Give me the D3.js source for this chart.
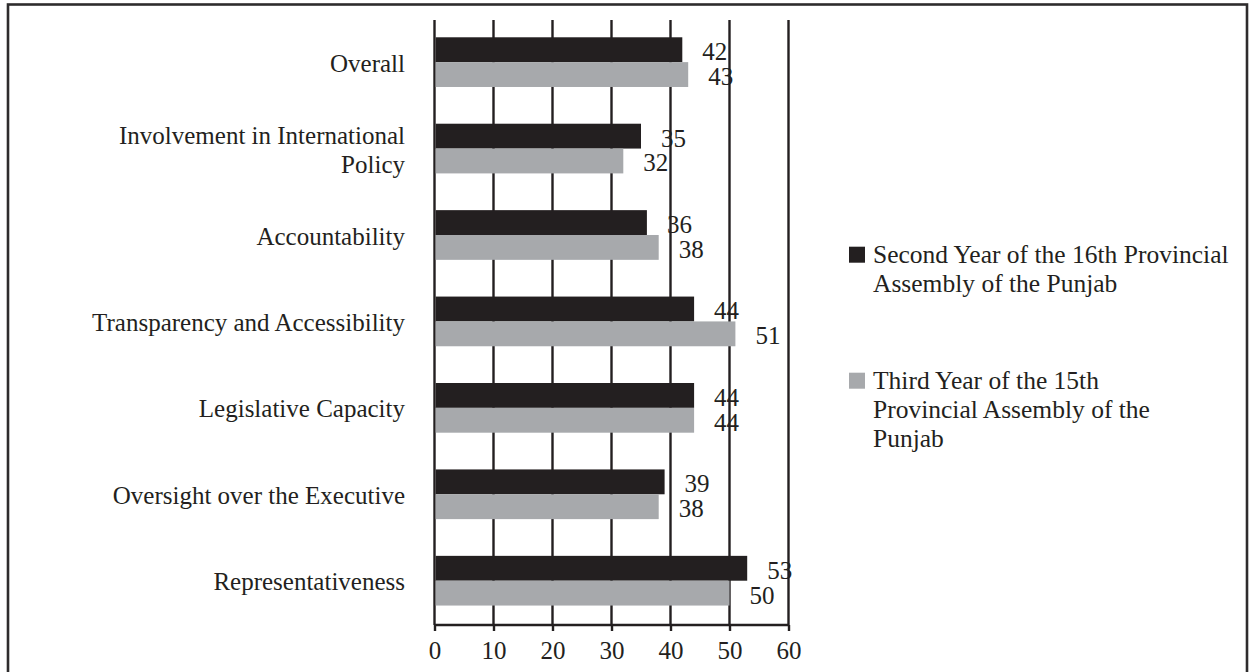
<!DOCTYPE html>
<html>
<head>
<meta charset="utf-8">
<script src="https://cdn.jsdelivr.net/npm/d3@7"></script>
<style>
  html, body { margin: 0; padding: 0; background: #fff; }
  svg { display: block; }
  text { font-family: "Liberation Serif", "Times New Roman", serif; fill: #231f20; }
</style>
</head>
<body>
<svg id="chart" width="1252" height="672"></svg>
<script>
// Category labels (top to bottom), each split into its display lines
const categories = [
  "Overall",
  "Involvement in International Policy",
  "Accountability",
  "Transparency and Accessibility",
  "Legislative Capacity",
  "Oversight over the Executive",
  "Representativeness"
];
const categoryLines = [
  ["Overall"],
  ["Involvement in International", "Policy"],
  ["Accountability"],
  ["Transparency and Accessibility"],
  ["Legislative Capacity"],
  ["Oversight over the Executive"],
  ["Representativeness"]
];
const seriesNames = ["second", "third"];
const secondYear16th = [42, 35, 36, 44, 44, 39, 53];
const thirdYear15th = [43, 32, 38, 51, 44, 38, 50];
const xTicks = [0, 10, 20, 30, 40, 50, 60];
const legendLines = [
  ["Second Year of the 16th Provincial", "Assembly of the Punjab"],
  ["Third Year of the 15th", "Provincial Assembly of the", "Punjab"]
];
const colors = { second: "#231f20", third: "#a7a9ac" };

const rows = categories.map((c, i) => ({
  cat: c, lines: categoryLines[i],
  vals: [
    { key: "second", v: secondYear16th[i] },
    { key: "third", v: thirdYear15th[i] }
  ]
}));

const svg = d3.select("#chart");

// Outer frame
svg.append("rect")
  .attr("x", 8).attr("y", 4.5).attr("width", 1239).attr("height", 700)
  .attr("fill", "none").attr("stroke", "#2e2c2d").attr("stroke-width", 2.6);

const plotTop = 20, plotBottom = 625;
const x = d3.scaleLinear().domain([0, 60]).range([434.5, 788.5]);
const y = d3.scaleBand().domain(categories).range([plotTop, plotBottom]).padding(0);
const ySub = d3.scaleBand().domain(seriesNames)
  .range([y.bandwidth() * 0.2, y.bandwidth() * 0.775]).padding(0);

// Value labels (drawn beneath the gridlines)
const valueLayer = svg.append("g");
rows.forEach(r => {
  valueLayer.selectAll(null).data(r.vals).enter().append("text")
    .attr("x", d => x(d.v) + 20)
    .attr("y", d => y(r.cat) + ySub(d.key) + ySub.bandwidth() / 2 + 10.5)
    .attr("font-size", 25)
    .text(d => d.v);
});

// Vertical gridlines
svg.append("g").selectAll("line").data(xTicks).enter().append("line")
  .attr("x1", d => x(d)).attr("x2", d => x(d))
  .attr("y1", plotTop).attr("y2", plotBottom)
  .attr("stroke", "#231f20").attr("stroke-width", 2.4);

// Bars
const groups = svg.append("g").selectAll("g").data(rows).enter().append("g")
  .attr("transform", d => `translate(0,${y(d.cat)})`);
groups.selectAll("rect").data(d => d.vals).enter().append("rect")
  .attr("x", x(0) + 1.2)
  .attr("y", d => ySub(d.key))
  .attr("width", d => x(d.v) - x(0) - 1.2)
  .attr("height", ySub.bandwidth())
  .attr("fill", d => colors[d.key]);

// Bottom axis
const xAxis = d3.axisBottom(x).tickValues(xTicks).tickSize(6).tickPadding(10)
  .tickFormat(d3.format("d"));
const axisG = svg.append("g").attr("transform", `translate(0,${plotBottom})`).call(xAxis);
axisG.select(".domain").attr("stroke", "#231f20").attr("stroke-width", 2.4)
  .attr("d", `M${x(0)},0H${x(60)}`);
axisG.selectAll(".tick line").attr("stroke", "#231f20").attr("stroke-width", 2.4);
axisG.selectAll(".tick text")
  .attr("font-family", "Liberation Serif, Times New Roman, serif")
  .attr("font-size", 25).attr("fill", "#231f20");

// Category labels
const lineGap = 29;
const catLayer = svg.append("g");
rows.forEach(r => {
  const cy = y(r.cat) + y.bandwidth() / 2;
  const n = r.lines.length;
  catLayer.selectAll(null).data(r.lines).enter().append("text")
    .attr("x", 405)
    .attr("y", (d, i) => cy + (i - (n - 1) / 2) * lineGap + 8.5)
    .attr("text-anchor", "end")
    .attr("font-size", 25)
    .text(d => d);
});

// Legend
const legendTops = [246.7, 372.7];
seriesNames.forEach((k, i) => {
  const g = svg.append("g");
  g.append("rect").attr("x", 849).attr("y", legendTops[i])
    .attr("width", 16).attr("height", 16).attr("fill", colors[k]);
  g.selectAll("text").data(legendLines[i]).enter().append("text")
    .attr("x", 873)
    .attr("y", (d, j) => legendTops[i] + 16.3 + j * 29.2)
    .attr("font-size", 25.5)
    .text(d => d);
});
</script>
</body>
</html>
